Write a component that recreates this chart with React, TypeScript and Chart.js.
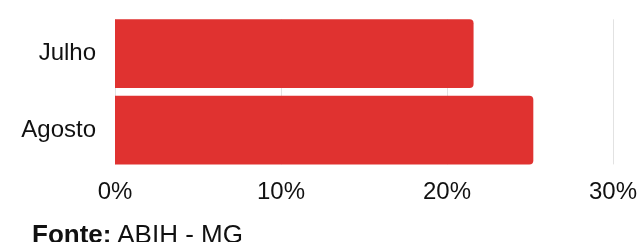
import React, { useEffect, useRef } from "react";
import { Chart, registerables } from "chart.js";

Chart.register(...registerables);

const categories = ["Julho", "Agosto"];
const values = [21.6, 25.2];
const xTicks = [0, 10, 20, 30];
const sourceLabel = "Fonte:";
const sourceText = "ABIH - MG";

const FONT = "'Liberation Sans', Arial, sans-serif";
const BAR_PCT = 0.9;

const gridPlugin = {
  id: "insetGrid",
  beforeDatasetsDraw(chart: any) {
    const { ctx, chartArea, scales } = chart;
    const inset = ((1 - BAR_PCT) * (chartArea.bottom - chartArea.top)) / categories.length / 2;
    ctx.save();
    ctx.strokeStyle = "#e2e2e2";
    ctx.lineWidth = 1;
    for (const t of xTicks) {
      const x = Math.round(scales.x.getPixelForValue(t)) + 0.5;
      ctx.beginPath();
      ctx.moveTo(x, chartArea.top + inset);
      ctx.lineTo(x, chartArea.bottom - inset);
      ctx.stroke();
    }
    ctx.restore();
  },
};

export default function App() {
  const ref = useRef<HTMLCanvasElement | null>(null);
  useEffect(() => {
    const ctx = ref.current!;
    const chart = new Chart(ctx, {
      type: "bar",
      data: {
        labels: categories,
        datasets: [
          {
            data: values,
            backgroundColor: "#e03230",
            borderWidth: 0,
            borderRadius: { topRight: 4, bottomRight: 4, topLeft: 0, bottomLeft: 0 },
            borderSkipped: false,
            barPercentage: BAR_PCT,
            categoryPercentage: 1,
          },
        ],
      },
      plugins: [gridPlugin],
      options: {
        indexAxis: "y",
        animation: false,
        responsive: false,
        maintainAspectRatio: false,
        layout: { padding: { top: 15.5, bottom: 25, left: 0, right: 26 } },
        plugins: { legend: { display: false }, tooltip: { enabled: false } },
        scales: {
          x: {
            min: xTicks[0],
            max: xTicks[xTicks.length - 1],
            afterBuildTicks: (axis: any) => {
              axis.ticks = xTicks.map((v) => ({ value: v }));
            },
            afterFit: (axis: any) => {
              axis.paddingLeft = 0;
              axis.paddingRight = 0;
            },
            grid: { display: false, drawTicks: false },
            border: { display: false },
            ticks: {
              padding: 10,
              color: "#111",
              font: { family: FONT, size: 24 },
              callback: (v: any) => v + "%",
            },
          },
          y: {
            afterFit: (axis: any) => {
              axis.paddingTop = 0;
              axis.paddingBottom = 0;
              axis.width = 115;
            },
            grid: { display: false, drawTicks: false },
            border: { display: false },
            ticks: {
              padding: 19,
              color: "#111",
              font: { family: FONT, size: 24 },
            },
          },
        },
      },
    });
    return () => chart.destroy();
  }, []);
  return (
    <div style={{ position: "fixed", left: 0, top: 0, width: 639, height: 242, background: "#fff", overflow: "hidden" }}>
      <canvas ref={ref} width={639} height={242} style={{ position: "absolute", left: 0, top: 0, width: 639, height: 242 }} />
      <div
        style={{
          position: "absolute",
          left: 32,
          top: 221,
          fontFamily: FONT,
          fontSize: 26,
          lineHeight: "26px",
          color: "#111",
          whiteSpace: "nowrap",
        }}
      >
        <b>{sourceLabel}</b> {sourceText}
      </div>
    </div>
  );
}
